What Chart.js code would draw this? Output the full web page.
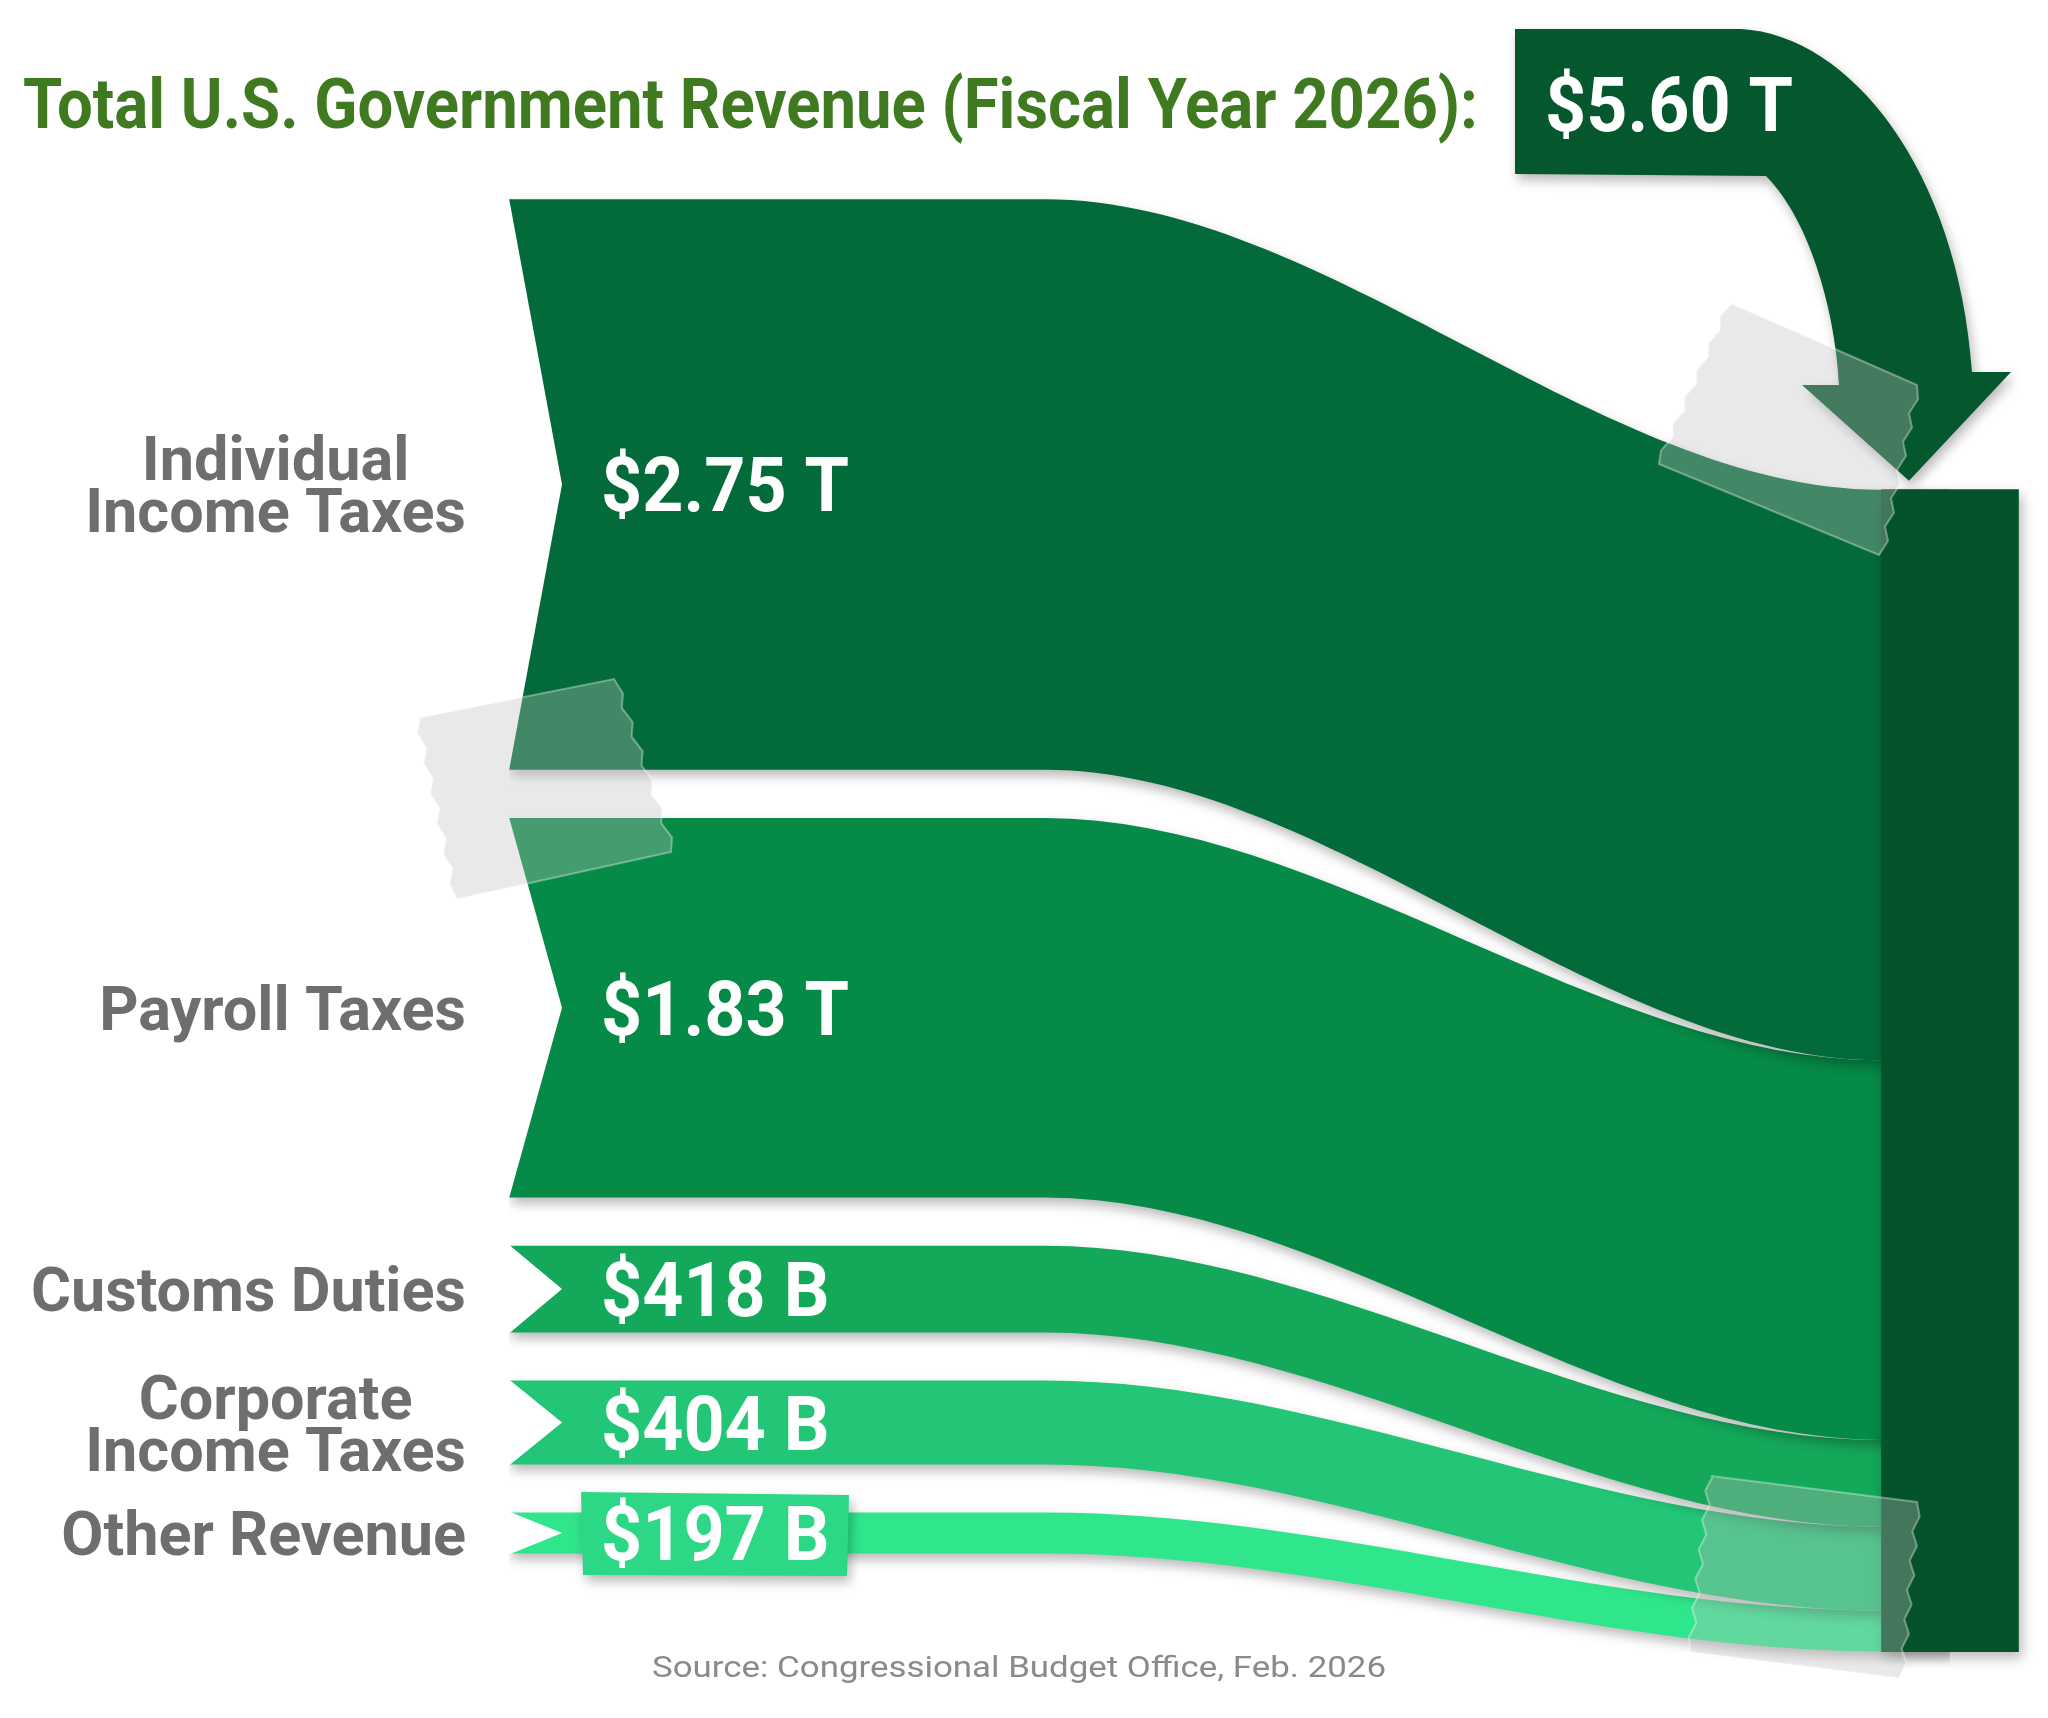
<!DOCTYPE html>
<html>
<head>
<meta charset="utf-8">
<script src="https://cdn.jsdelivr.net/npm/chart.js@4.4.1/dist/chart.umd.min.js"></script>
<style>
  html, body { margin: 0; padding: 0; background: #fff; }
  #wrap { width: 2048px; height: 1718px; }
</style>
</head>
<body>
<div id="wrap"><canvas id="chart" width="2048" height="1718"></canvas></div>
<script>
"use strict"

/*====================================================================
Data
====================================================================*/
const categories = ["Individual Income Taxes", "Payroll Taxes", "Customs Duties", "Corporate Income Taxes", "Other Revenue"]
const labelLines = [["Individual", "Income Taxes"], ["Payroll Taxes"], ["Customs Duties"], ["Corporate", "Income Taxes"], ["Other Revenue"]]
const revenue = [2.75, 1.83, 0.418, 0.404, 0.197]      // trillions of dollars
const valueLabels = ["$2.75 T", "$1.83 T", "$418 B", "$404 B", "$197 B"]
const total = 5.60
const totalLabel = "$5.60 T"
const titleText = "Total U.S. Government Revenue (Fiscal Year 2026):"
const sourceText = "Source: Congressional Budget Office, Feb. 2026"

/*====================================================================
Styles / layout
====================================================================*/
const bandColors = ["#036b39", "#068a47", "#14a85b", "#22c676", "#30e68d"]
const barColor = "#04532a"
const boxColor = "#05572d"
const titleColor = "#3f7a20"
const labelColor = "#6e6e6e"
const sourceColor = "#8a8a8a"

const gap = 0.232          // gap between bands on the left (in T units)
const rightStart = 1.40    // where the stack starts on the right bar
const xKnots = [509, 1045, 1881, 1950]

// stack positions
const leftTop = []
const rightTop = []
let l = 0, r = rightStart
for (let i = 0; i < revenue.length; i++) {
    leftTop.push(l); rightTop.push(r)
    l += revenue[i] + gap
    r += revenue[i]
}

// build datasets: top edge + bottom edge filled to the top edge
const datasets = []
for (let i = 0; i < revenue.length; i++) {
    const top = leftTop[i], rTop = rightTop[i]
    const bot = top + revenue[i], rBot = rTop + revenue[i]
    datasets.push({
        label: categories[i] + " top",
        data: [{x: xKnots[0], y: top}, {x: xKnots[1], y: top}, {x: xKnots[2], y: rTop}, {x: xKnots[3], y: rTop}],
        borderColor: "rgba(0,0,0,0)", fill: false, order: 1
    })
    datasets.push({
        label: categories[i],
        data: [{x: xKnots[0], y: bot}, {x: xKnots[1], y: bot}, {x: xKnots[2], y: rBot}, {x: xKnots[3], y: rBot}],
        borderColor: "rgba(0,0,0,0)", fill: "-1", backgroundColor: bandColors[i], order: 1
    })
}
datasets.push({
    type: "bar", label: "Total",
    data: [{x: 1950, y: [rightStart, rightStart + total]}],
    backgroundColor: barColor, barThickness: 137, order: -1
})

/*====================================================================
Helpers
====================================================================*/
function textScale(ctx, font, str, target) {
    ctx.save(); ctx.font = font
    const w = ctx.measureText(str).width
    ctx.restore()
    return target / w
}

function drawText(ctx, str, x, y, font, color, align, sx) {
    ctx.save()
    ctx.font = font
    ctx.fillStyle = color
    ctx.textBaseline = "alphabetic"
    ctx.textAlign = "left"
    const w = ctx.measureText(str).width * sx
    const left = align === "left" ? x : (align === "right" ? x - w : x - w / 2)
    ctx.translate(left, y)
    ctx.scale(sx, 1)
    ctx.fillText(str, 0, 0)
    ctx.restore()
}

function setShadow(ctx) {
    ctx.shadowColor = "rgba(0,0,0,0.28)"
    ctx.shadowBlur = 12
    ctx.shadowOffsetX = 3
    ctx.shadowOffsetY = 6
}

function tape(ctx, pts) {
    // pts: TL, TR, BR, BL ; serrated left and right edges
    const [a, b, c, d] = pts
    ctx.save()
    ctx.beginPath()
    ctx.moveTo(a[0], a[1])
    ctx.lineTo(b[0], b[1])
    const teeth = 12
    for (let k = 1; k <= teeth; k++) {
        const t = k / teeth
        const px = b[0] + (c[0] - b[0]) * t, py = b[1] + (c[1] - b[1]) * t
        const o = (k % 2) ? 4 : -2
        ctx.lineTo(px + o, py)
    }
    ctx.lineTo(d[0], d[1])
    for (let k = 1; k <= teeth; k++) {
        const t = k / teeth
        const px = d[0] + (a[0] - d[0]) * t, py = d[1] + (a[1] - d[1]) * t
        const o = (k % 2) ? -4 : 2
        ctx.lineTo(px + o, py)
    }
    ctx.closePath()
    ctx.fillStyle = "rgba(190,190,190,0.34)"
    ctx.fill()
    ctx.strokeStyle = "rgba(255,255,255,0.35)"
    ctx.lineWidth = 2
    ctx.stroke()
    ctx.restore()
}

/*====================================================================
Plugins
====================================================================*/
const paperShadow = {
    id: "paperShadow",
    beforeDatasetsDraw(chart) { chart.ctx.save(); setShadow(chart.ctx) },
    afterDatasetsDraw(chart) { chart.ctx.restore() }
}

const decorations = {
    id: "decorations",
    afterDraw(chart) {
        const ctx = chart.ctx
        const ys = chart.scales.y, xs = chart.scales.x
        const x0 = xs.getPixelForValue(xKnots[0])

        // notch at the left end of every band
        ctx.save()
        ctx.fillStyle = "#ffffff"
        for (let i = 0; i < revenue.length; i++) {
            const t = ys.getPixelForValue(leftTop[i])
            const b = ys.getPixelForValue(leftTop[i] + revenue[i])
            ctx.beginPath()
            ctx.moveTo(x0 - 4, t - 1)
            ctx.lineTo(x0, t - 1)
            ctx.lineTo(x0 + 53, (t + b) / 2)
            ctx.lineTo(x0, b + 1)
            ctx.lineTo(x0 - 4, b + 1)
            ctx.closePath()
            ctx.fill()
        }
        ctx.restore()

        // label box behind the smallest value
        const last = revenue.length - 1
        const lastMid = ys.getPixelForValue(leftTop[last] + revenue[last] / 2)
        ctx.save()
        setShadow(ctx)
        ctx.fillStyle = "#2cd886"
        ctx.beginPath()
        ctx.moveTo(581, lastMid - 41)
        ctx.lineTo(849, lastMid - 38)
        ctx.lineTo(847, lastMid + 43)
        ctx.lineTo(583, lastMid + 42)
        ctx.closePath()
        ctx.fill()
        ctx.restore()

        // total box with curved arrow into the bar
        const barTop = ys.getPixelForValue(rightStart)
        ctx.save()
        setShadow(ctx)
        ctx.fillStyle = boxColor
        ctx.beginPath()
        ctx.moveTo(1515, 29)
        ctx.lineTo(1741, 29)
        ctx.bezierCurveTo(1850, 35, 1958, 170, 1972, 372)
        ctx.lineTo(2011, 372)
        ctx.lineTo(1909, barTop - 9)
        ctx.lineTo(1802, 385)
        ctx.lineTo(1839, 385)
        ctx.bezierCurveTo(1836, 318, 1812, 222, 1766, 176)
        ctx.lineTo(1515, 174)
        ctx.closePath()
        ctx.fill()
        ctx.restore()

        // texts
        const titleFont = "700 70px Roboto"
        drawText(ctx, titleText, 23, 128, titleFont, titleColor, "left",
            textScale(ctx, titleFont, titleText, 1455))

        const valFont = "700 76px Roboto"
        const valSx = textScale(ctx, valFont, "$2.75 T", 248)
        drawText(ctx, totalLabel, 1545, 131, valFont, "#ffffff", "left", valSx)

        const labFont = "700 62px Roboto"
        const labSx = textScale(ctx, labFont, "Customs Duties", 435)
        const lineH = 52
        for (let i = 0; i < revenue.length; i++) {
            const mid = ys.getPixelForValue(leftTop[i] + revenue[i] / 2)
            drawText(ctx, valueLabels[i], 601, mid + 27, valFont, "#ffffff", "left", valSx)

            const lines = labelLines[i]
            ctx.save(); ctx.font = labFont
            let maxW = 0
            lines.forEach(s => { maxW = Math.max(maxW, ctx.measureText(s).width * labSx) })
            ctx.restore()
            const cx = 466 - maxW / 2
            const firstBase = mid + 22 - (lines.length - 1) * lineH / 2
            lines.forEach((s, k) => drawText(ctx, s, cx, firstBase + k * lineH, labFont, labelColor, "center", labSx))
        }

        const srcFont = "400 30px Roboto"
        drawText(ctx, sourceText, 1019, 1677, srcFont, sourceColor, "center",
            textScale(ctx, srcFont, sourceText, 734))

        // tape pieces
        tape(ctx, [[1730, 303], [1917, 385], [1881, 555], [1659, 464]])
        tape(ctx, [[418, 718], [614, 679], [673, 852], [457, 899]])
        tape(ctx, [[1711, 1476], [1917, 1502], [1901, 1678], [1691, 1652]])
    }
}

/*====================================================================
Chart
====================================================================*/
const chart = document.getElementById("chart")
new Chart(chart, {
    type: "line",
    data: {datasets: datasets},
    options: {
        responsive: false,
        animation: false,
        devicePixelRatio: 1,
        layout: {padding: 0},
        elements: {point: {radius: 0}, line: {borderWidth: 0, cubicInterpolationMode: "monotone"}},
        scales: {
            x: {type: "linear", min: 0, max: 2048, offset: false, display: false},
            y: {type: "linear", min: -0.96, max: 7.32, reverse: true, display: false}
        },
        plugins: {legend: {display: false}, tooltip: {enabled: false}}
    },
    plugins: [paperShadow, decorations]
})
</script>
</body>
</html>
